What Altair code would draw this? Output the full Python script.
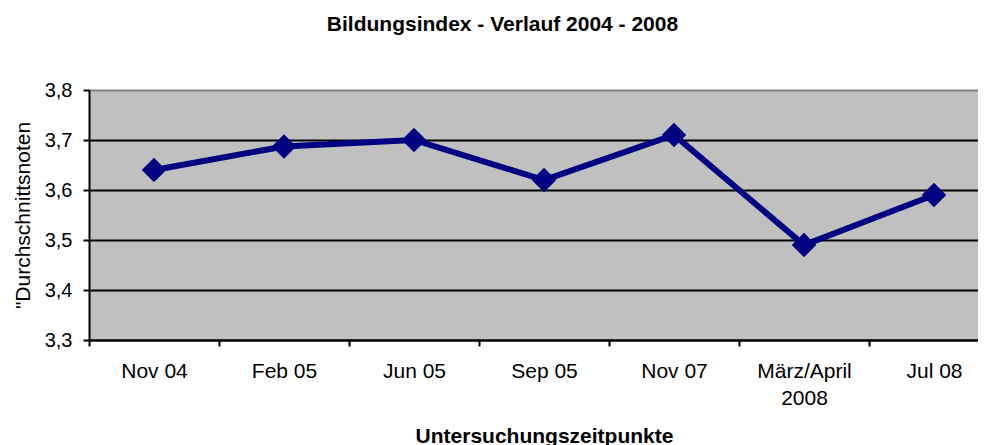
import altair as alt
import pandas as pd

categories = ["Nov 04", "Feb 05", "Jun 05", "Sep 05", "Nov 07", "März/April\n2008", "Jul 08"]
values = [3.64, 3.687, 3.70, 3.62, 3.71, 3.49, 3.59]
y_ticks = [3.3, 3.4, 3.5, 3.6, 3.7, 3.8]

df = pd.DataFrame({"Zeitpunkt": categories, "Note": values})

FONT = "Liberation Sans"
NAVY = "#000080"

x_enc = alt.X(
    "Zeitpunkt:N",
    sort=categories,
    scale=alt.Scale(type="band", paddingInner=0, paddingOuter=0, range=[0, 910]),
    axis=alt.Axis(
        title="Untersuchungszeitpunkte",
        labelAngle=0,
        labelExpr="split(datum.label, '\\n')",
        labelLineHeight=27,
        labelPadding=14,
        tickBand="extent",
        tickSize=6,
        titlePadding=17,
    ),
)
y_enc = alt.Y(
    "Note:Q",
    scale=alt.Scale(domain=[3.3, 3.8], nice=False, zero=False),
    axis=alt.Axis(
        title='"Durchschnittsnoten',
        values=y_ticks,
        format=".1f",
        labelExpr="replace(datum.label, '.', ',')",
        labelPadding=11,
        labelFontSize=20,
        tickSize=6,
        titlePadding=11,
        gridColor={"condition": {"test": "datum.value >= 3.79", "value": "#808080"}, "value": "#000000"},
        gridWidth=2,
    ),
)

line = alt.Chart(df).mark_line(color=NAVY, strokeWidth=6).encode(x=x_enc, y=y_enc)
pts = alt.Chart(df).mark_point(shape="diamond", filled=True, size=600, color=NAVY, opacity=1).encode(x=x_enc, y=y_enc)

chart = (
    alt.layer(line, pts)
    .properties(
        width=889,
        height=250,
        title=alt.TitleParams(
            text="Bildungsindex - Verlauf 2004 - 2008",
            font=FONT,
            fontSize=21,
            fontWeight="bold",
            color="#000000",
            anchor="middle",
            dx=-31,
            offset=45,
        ),
        autosize=alt.AutoSizeParams(type="none"),
        padding={"left": 81, "top": 82, "right": 0, "bottom": 105},
    )
    .configure_view(fill="#C0C0C0", stroke=None)
    .configure_axis(
        labelFont=FONT,
        titleFont=FONT,
        labelFontSize=21,
        titleFontSize=21,
        labelColor="#000000",
        titleColor="#000000",
        domainColor="#000000",
        domainWidth=2,
        tickColor="#000000",
        tickWidth=2,
    )
    .configure_axisX(grid=False, titleFontWeight="bold")
    .configure_axisY(titleFontWeight="normal")
)

chart.save("out.html", embed_options={"renderer": "svg", "actions": False})
